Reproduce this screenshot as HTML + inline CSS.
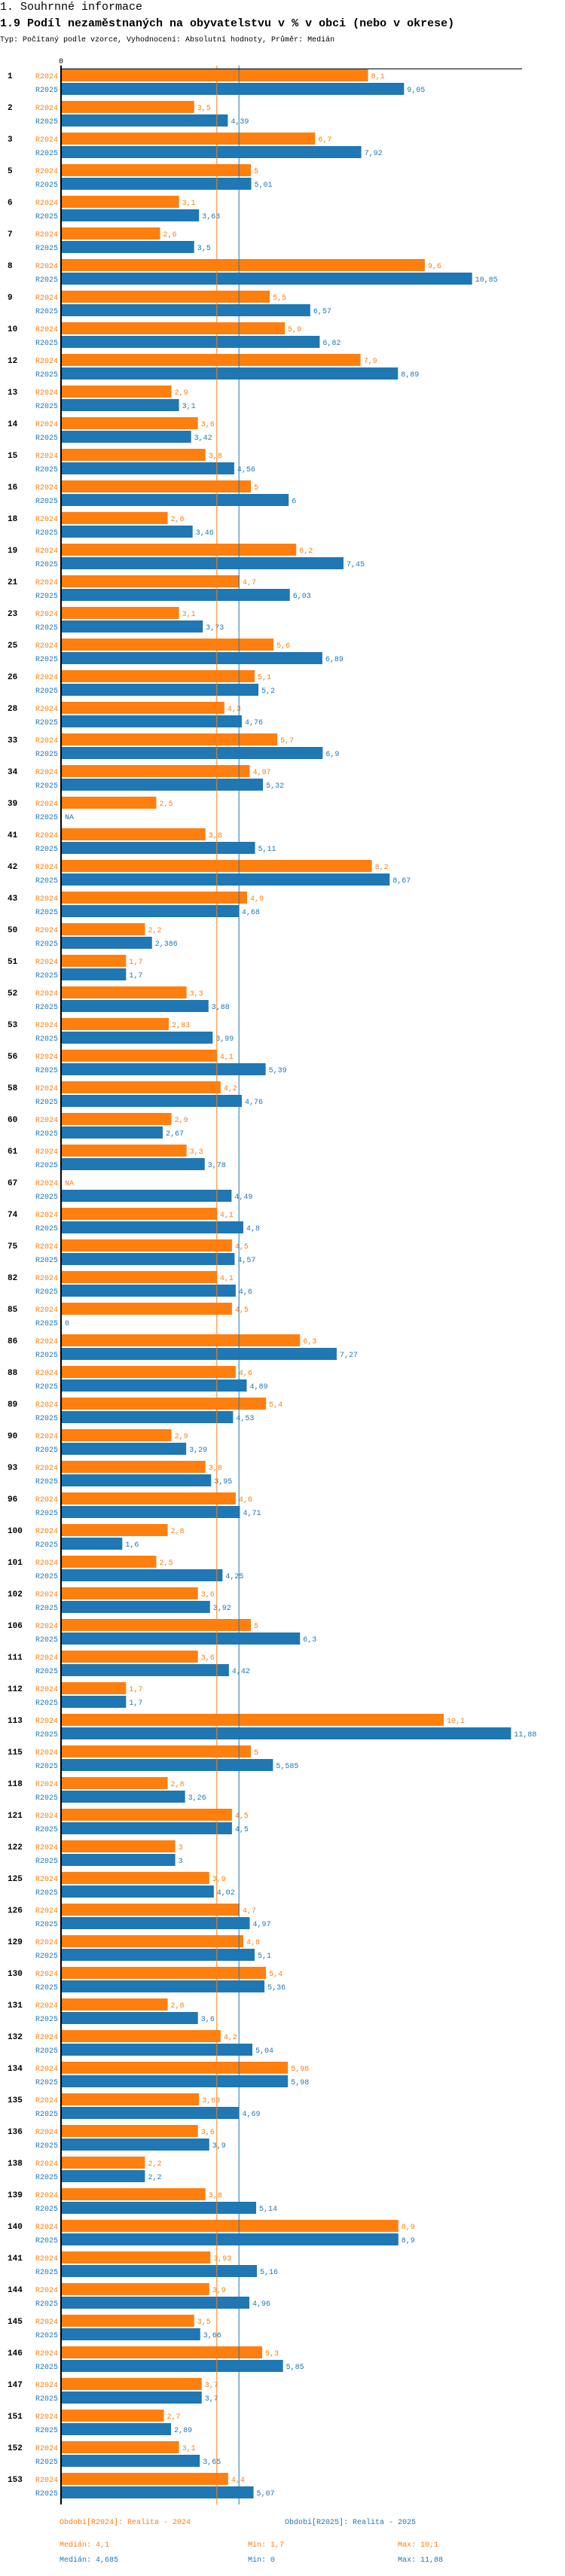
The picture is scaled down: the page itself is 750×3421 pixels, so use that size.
<!DOCTYPE html>
<html><head><meta charset="utf-8">
<style>
body{margin:0;background:#fff;}
svg text{font-family:"Liberation Mono",monospace;}
</style></head>
<body>
<svg id="chart" width="750" height="3416" xmlns="http://www.w3.org/2000/svg">
<text x="0" y="13" font-size="15" fill="#000">1. Souhrnné informace</text>
<text x="0" y="35" font-size="15" font-weight="bold" fill="#000">1.9 Podíl nezaměstnaných na obyvatelstvu v % v obci (nebo v okrese)</text>
<text x="0" y="55" font-size="10" fill="#000">Typ: Počítaný podle vzorce, Vyhodnocení: Absolutní hodnoty, Průměr: Medián</text>
<g id="plot"></g>
<text x="79" y="3352" font-size="10" fill="#ff7f0e">Období[R2024]: Realita - 2024</text>
<text x="378" y="3352" font-size="10" fill="#1f77b4">Období[R2025]: Realita - 2025</text>
<text x="79" y="3382" font-size="10" fill="#ff7f0e">Medián: 4,1</text>
<text x="329" y="3382" font-size="10" fill="#ff7f0e">Min: 1,7</text>
<text x="528" y="3382" font-size="10" fill="#ff7f0e">Max: 10,1</text>
<text x="79" y="3402" font-size="10" fill="#1f77b4">Medián: 4,685</text>
<text x="329" y="3402" font-size="10" fill="#1f77b4">Min: 0</text>
<text x="528" y="3402" font-size="10" fill="#1f77b4">Max: 11,88</text>
</svg>
<script>
const categories=[1,2,3,5,6,7,8,9,10,12,13,14,15,16,18,19,21,23,25,26,28,33,34,39,41,42,43,50,51,52,53,56,58,60,61,67,74,75,82,85,86,88,89,90,93,96,100,101,102,106,111,112,113,115,118,121,122,125,126,129,130,131,132,134,135,136,138,139,140,141,144,145,146,147,151,152,153];
const values2024=[8.1,3.5,6.7,5,3.1,2.6,9.6,5.5,5.9,7.9,2.9,3.6,3.8,5,2.8,6.2,4.7,3.1,5.6,5.1,4.3,5.7,4.97,2.5,3.8,8.2,4.9,2.2,1.7,3.3,2.83,4.1,4.2,2.9,3.3,null,4.1,4.5,4.1,4.5,6.3,4.6,5.4,2.9,3.8,4.6,2.8,2.5,3.6,5,3.6,1.7,10.1,5,2.8,4.5,3,3.9,4.7,4.8,5.4,2.8,4.2,5.98,3.63,3.6,2.2,3.8,8.9,3.93,3.9,3.5,5.3,3.7,2.7,3.1,4.4];
const values2025=[9.05,4.39,7.92,5.01,3.63,3.5,10.85,6.57,6.82,8.89,3.1,3.42,4.56,6,3.46,7.45,6.03,3.73,6.89,5.2,4.76,6.9,5.32,null,5.11,8.67,4.68,2.386,1.7,3.88,3.99,5.39,4.76,2.67,3.78,4.49,4.8,4.57,4.6,0,7.27,4.89,4.53,3.29,3.95,4.71,1.6,4.25,3.92,6.3,4.42,1.7,11.88,5.585,3.26,4.5,3,4.02,4.97,5.1,5.36,3.6,5.04,5.98,4.69,3.9,2.2,5.14,8.9,5.16,4.96,3.66,5.85,3.7,2.89,3.65,5.07];
const medians=[4.1,4.685];
const seriesNames=["R2024","R2025"];

const NS="http://www.w3.org/2000/svg";
const X0=82, SCALE=50.2, TOP=92, PITCH=42;
const colors=["#ff7f0e","#1f77b4"];
const xs=v=>X0+v*SCALE;
const ys=(i,s)=>TOP+i*PITCH+s*18;
const plot=document.getElementById('plot');
function mk(tag,attrs){const e=document.createElementNS(NS,tag);for(const k in attrs)e.setAttribute(k,attrs[k]);plot.appendChild(e);return e;}
const fmt=v=>v===null?"NA":String(v).replace('.',',');
const bottom=ys(categories.length-1,1)+16+8;

categories.forEach((c,i)=>{
  const lab=mk('text',{x:10,y:ys(i,0)+12,'font-size':11,'font-weight':'bold',fill:'#000'});
  lab.textContent=c;
  
  
  [values2024,values2025].forEach((arr,s)=>{
    const v=arr[i];
    const sl=mk('text',{x:77,y:ys(i,s)+12,'font-size':10,fill:colors[s],'text-anchor':'end'});
    sl.textContent=seriesNames[s];
    
    
    if(v!==null && v>0){
      const r=mk('rect',{x:X0,y:ys(i,s),width:xs(v)-X0,height:16,fill:colors[s]});
      
      
    }
    const vl=mk('text',{x:(v?xs(v):X0)+4,y:ys(i,s)+12,'font-size':10,fill:colors[s]});
    vl.textContent=fmt(v);
    
    
  });
});
medians.forEach((m,s)=>{
  const l=mk('line',{x1:xs(m),x2:xs(m),y1:87,y2:bottom,stroke:colors[s],'stroke-width':1});
  
  
});
const ax=mk('line',{x1:81,x2:81,y1:87,y2:bottom,stroke:'#000','stroke-width':2});


const hx=mk('line',{x1:80,x2:693,y1:91.5,y2:91.5,stroke:'#000','stroke-width':1});


const z=mk('text',{x:81,y:84,'font-size':10,'text-anchor':'middle',fill:'#000'});
z.textContent='0';


</script>
</body></html>
